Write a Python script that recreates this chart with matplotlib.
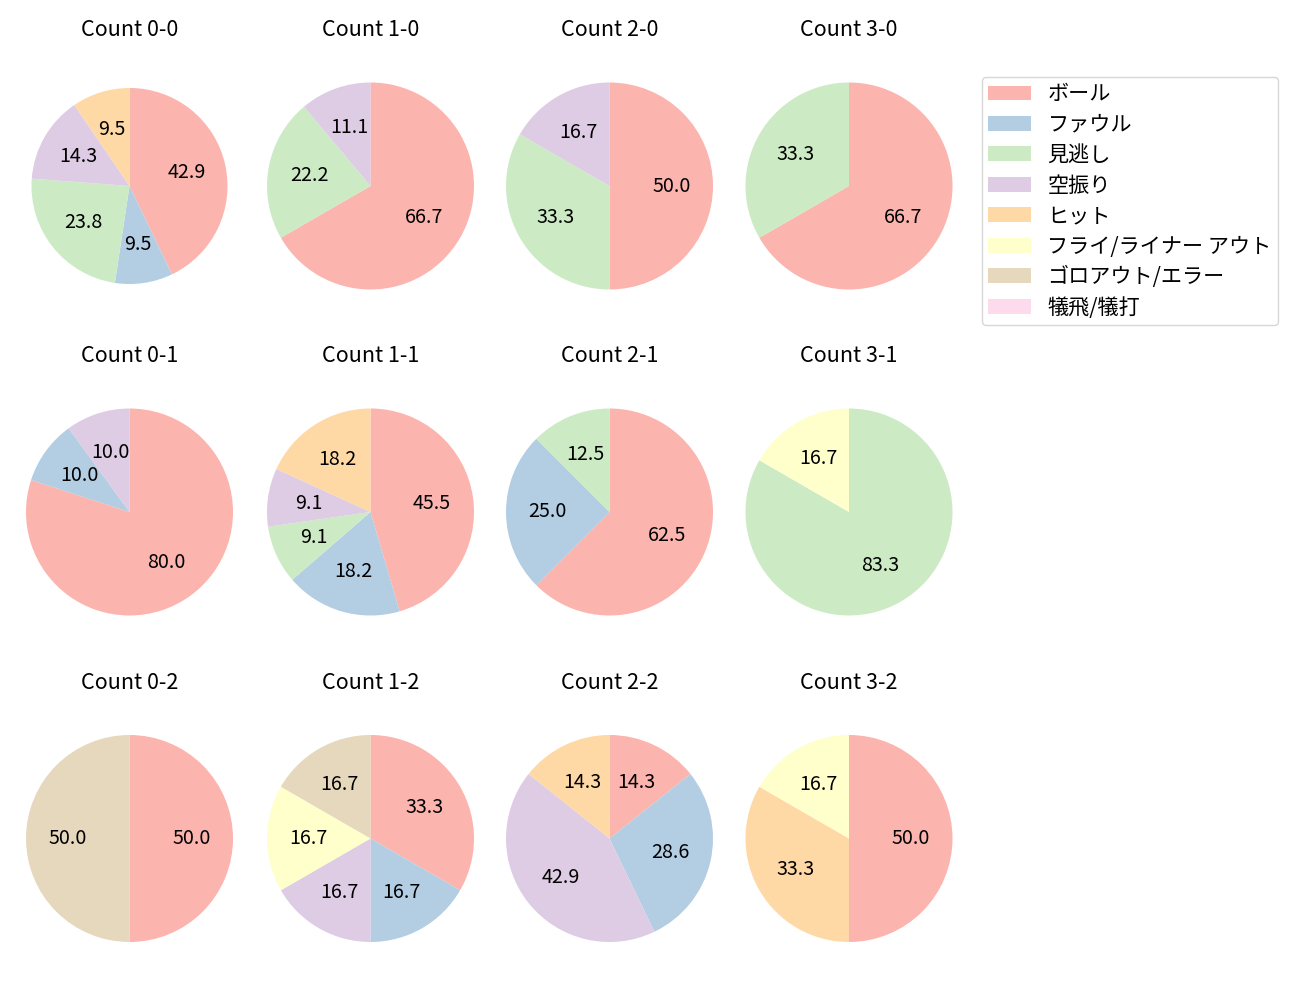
import matplotlib
matplotlib.use("Agg")
import matplotlib.pyplot as plt
from matplotlib.patches import Patch

plt.rcParams['font.family'] = ['Noto Sans CJK JP', 'DejaVu Sans']

categories = ['ボール', 'ファウル', '見逃し', '空振り', 'ヒット',
              'フライ/ライナー アウト', 'ゴロアウト/エラー', '犠飛/犠打']
colors = ['#fbb4ae', '#b3cde3', '#ccebc5', '#decbe4', '#fed9a6',
          '#ffffcc', '#e5d8bd', '#fddaec']

titles = ['Count 0-0', 'Count 1-0', 'Count 2-0', 'Count 3-0',
          'Count 0-1', 'Count 1-1', 'Count 2-1', 'Count 3-1',
          'Count 0-2', 'Count 1-2', 'Count 2-2', 'Count 3-2']

# counts per category (order as in categories)
c00 = [9, 2, 5, 3, 2, 0, 0, 0]
c10 = [6, 0, 2, 1, 0, 0, 0, 0]
c20 = [3, 0, 2, 1, 0, 0, 0, 0]
c30 = [2, 0, 1, 0, 0, 0, 0, 0]
c01 = [8, 1, 0, 1, 0, 0, 0, 0]
c11 = [5, 2, 1, 1, 2, 0, 0, 0]
c21 = [5, 2, 1, 0, 0, 0, 0, 0]
c31 = [0, 0, 5, 0, 0, 1, 0, 0]
c02 = [1, 0, 0, 0, 0, 0, 1, 0]
c12 = [2, 1, 0, 1, 0, 1, 1, 0]
c22 = [1, 2, 0, 3, 1, 0, 0, 0]
c32 = [3, 0, 0, 0, 2, 1, 0, 0]
data = [c00, c10, c20, c30, c01, c11, c21, c31, c02, c12, c22, c32]

W, H = 1300, 1000
fig = plt.figure(figsize=(13, 10), dpi=100)

col_cx = [129.5, 370.5, 609.5, 849]
row_cy = [186, 512, 838.5]
r_px = 103.5
S = 2.5 * r_px

for i, (vals, title) in enumerate(zip(data, titles)):
    row, col = divmod(i, 4)
    cx, cy = col_cx[col], row_cy[row]
    ax = fig.add_axes([(cx - S / 2) / W, 1 - (cy + S / 2) / H, S / W, S / H])
    v = [x for x in vals if x > 0]
    c = [colors[k] for k, x in enumerate(vals) if x > 0]
    radius = 0.947 if i == 0 else 1.0
    ax.pie(v, colors=c, startangle=90, counterclock=False,
           autopct='%.1f', pctdistance=0.6, radius=radius,
           textprops={'fontsize': 14.2})
    ax.set_title(title, fontsize=15.5, pad=14.5)

handles = [Patch(facecolor=col, label=lab) for col, lab in zip(colors, categories)]
fig.legend(handles=handles, loc='upper left',
           bbox_to_anchor=(982 / W, 1 - 77 / H), fontsize=15.2,
           borderaxespad=0.0, labelspacing=0.40, borderpad=0.3)

fig.savefig('out.png', dpi=100)
